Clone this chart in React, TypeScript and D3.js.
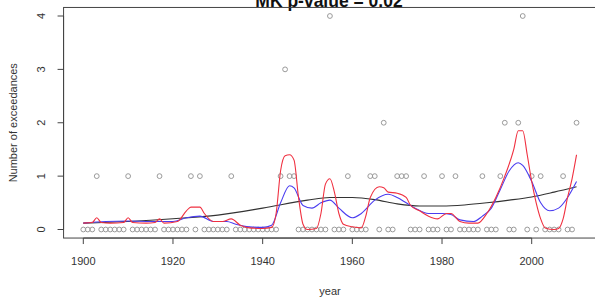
import React from "react";
import * as d3 from "d3";

// yearly exceedance counts, 1900..2010
const firstYear = 1900;
const counts = [
  0, 0, 0, 1, 0, 0, 0, 0, 0, 0, // 1900s
  1, 0, 0, 0, 0, 0, 0, 1, 0, 0, // 1910s
  0, 0, 0, 0, 1, 0, 1, 0, 0, 0, // 1920s
  0, 0, 0, 1, 0, 0, 0, 0, 0, 0, // 1930s
  0, 0, 0, 0, 1, 3, 1, 1, 0, 0, // 1940s
  0, 0, 0, 0, 0, 4, 0, 0, 0, 1, // 1950s
  0, 0, 0, 0, 1, 1, 0, 2, 0, 0, // 1960s
  1, 1, 1, 0, 0, 0, 1, 0, 0, 0, // 1970s
  1, 0, 0, 1, 0, 0, 0, 0, 0, 1, // 1980s
  0, 0, 0, 1, 2, 0, 0, 2, 4, 0, // 1990s
  1, 0, 1, 0, 0, 0, 0, 1, 0, 0, // 2000s
  2,
];

// narrow smoother (red) [year, value]
const redSmooth: [number, number][] = [
  [1900, 0.12], [1902, 0.13], [1903, 0.22], [1904, 0.13], [1906, 0.12],
  [1909, 0.13], [1910, 0.22], [1911, 0.13], [1914, 0.12], [1916, 0.13],
  [1917, 0.2], [1918, 0.12], [1921, 0.15], [1923, 0.35], [1924, 0.42],
  [1926, 0.42], [1927, 0.3], [1929, 0.15], [1931, 0.15], [1933, 0.2],
  [1935, 0.08], [1937, 0.03], [1940, 0.02], [1942, 0.04], [1943, 0.3],
  [1944, 1.1], [1945, 1.38], [1946, 1.4], [1947, 1.3], [1948, 0.6],
  [1949, 0.1], [1950, 0.0], [1952, 0.02], [1953, 0.3], [1954, 0.85],
  [1955, 0.95], [1956, 0.7], [1957, 0.3], [1958, 0.1], [1960, 0.05],
  [1962, 0.03], [1963, 0.25], [1964, 0.6], [1966, 0.8], [1967, 0.78],
  [1968, 0.7], [1970, 0.68], [1972, 0.6], [1973, 0.45], [1975, 0.35],
  [1977, 0.25], [1979, 0.2], [1981, 0.3], [1982, 0.3], [1984, 0.15],
  [1986, 0.12], [1988, 0.12], [1990, 0.3], [1992, 0.6], [1994, 1.0],
  [1996, 1.5], [1997, 1.85], [1998, 1.85], [1999, 1.4], [2000, 0.9],
  [2001, 0.5], [2002, 0.2], [2003, 0.03], [2005, 0.0], [2006, 0.02],
  [2007, 0.2], [2008, 0.6], [2009, 0.95], [2010, 1.4],
];

// medium smoother (blue)
const blueSmooth: [number, number][] = [
  [1900, 0.12], [1905, 0.15], [1910, 0.16], [1915, 0.15], [1920, 0.15],
  [1923, 0.22], [1926, 0.25], [1929, 0.15], [1932, 0.15], [1934, 0.1],
  [1937, 0.05], [1940, 0.04], [1942, 0.08], [1944, 0.5], [1946, 0.82],
  [1947, 0.78], [1949, 0.45], [1951, 0.4], [1953, 0.5], [1955, 0.55],
  [1957, 0.4], [1960, 0.22], [1962, 0.3], [1965, 0.55], [1968, 0.66],
  [1970, 0.6], [1972, 0.5], [1974, 0.4], [1977, 0.3], [1980, 0.3],
  [1982, 0.28], [1984, 0.18], [1987, 0.15], [1989, 0.25], [1991, 0.4],
  [1993, 0.75], [1995, 1.1], [1997, 1.25], [1998, 1.2], [2000, 0.9],
  [2002, 0.5], [2004, 0.35], [2006, 0.4], [2008, 0.6], [2010, 0.9],
];

// broad trend (black)
const trend: [number, number][] = [
  [1900, 0.12], [1910, 0.15], [1920, 0.2], [1930, 0.27], [1940, 0.4],
  [1950, 0.55], [1955, 0.6], [1960, 0.6], [1965, 0.56], [1970, 0.48],
  [1975, 0.44], [1980, 0.44], [1985, 0.46], [1990, 0.5], [1995, 0.55],
  [2000, 0.61], [2005, 0.7], [2010, 0.8],
];

const xTicks = [1900, 1920, 1940, 1960, 1980, 2000];
const yTicks = [0, 1, 2, 3, 4];

const W = 595;
const H = 302;

export default function App() {
  const x = d3.scaleLinear().domain([1900, 2000]).range([83.3, 531.7]);
  const y = d3.scaleLinear().domain([0, 4]).range([229.5, 16]);

  // R-style 4% padding around data range
  const left = x(1895.6);
  const right = x(2014.4);
  const top = y(4.16);
  const bottom = y(-0.16);

  const line = d3
    .line<[number, number]>()
    .x((d) => x(d[0]))
    .y((d) => y(d[1]))
    .curve(d3.curveMonotoneX);

  const axisCol = "#444";
  const font = "'Liberation Sans', Arial, sans-serif";

  return (
    <svg
      width={W}
      height={H}
      style={{ position: "absolute", left: 0, top: 0, background: "#fff" }}
      fontFamily={font}
    >
      <rect x={0} y={0} width={W} height={H} fill="#fff" />

      {/* title, clipped by the top edge */}
      <text x={329} y={7} textAnchor="middle" fontSize={17.5} fontWeight="bold" fill="#111">
        MK p-value = 0.02
      </text>

      {/* box */}
      <rect
        x={left}
        y={top}
        width={right - left}
        height={bottom - top}
        fill="none"
        stroke={axisCol}
        strokeWidth={1}
      />

      {/* x axis */}
      <line x1={x(1900)} x2={x(2000)} y1={bottom} y2={bottom} stroke={axisCol} />
      {xTicks.map((t) => (
        <g key={t}>
          <line x1={x(t)} x2={x(t)} y1={bottom} y2={bottom + 6} stroke={axisCol} />
          <text x={x(t)} y={265} textAnchor="middle" fontSize={11} fill="#333">
            {t}
          </text>
        </g>
      ))}

      {/* y axis */}
      <line x1={left} x2={left} y1={y(0)} y2={y(4)} stroke={axisCol} />
      {yTicks.map((t) => (
        <g key={t}>
          <line x1={left} x2={left - 6} y1={y(t)} y2={y(t)} stroke={axisCol} />
          <text
            transform={`translate(${44.5},${y(t)}) rotate(-90)`}
            textAnchor="middle"
            fontSize={11}
            fill="#333"
          >
            {t}
          </text>
        </g>
      ))}

      <text x={330} y={295} textAnchor="middle" fontSize={11} fill="#333">
        year
      </text>
      <text
        transform={`translate(${16.5},${(top + bottom) / 2}) rotate(-90)`}
        textAnchor="middle"
        fontSize={11}
        fill="#333"
      >
        Number of exceedances
      </text>

      {/* observations */}
      {counts.map((c, i) => (
        <circle
          key={i}
          cx={x(firstYear + i)}
          cy={y(c)}
          r={2.4}
          fill="none"
          stroke="#9a9a9a"
          strokeWidth={1}
        />
      ))}

      {/* smoothers */}
      <path d={line(trend) ?? ""} fill="none" stroke="#333" strokeWidth={1.1} />
      <path d={line(blueSmooth) ?? ""} fill="none" stroke="#4b3df0" strokeWidth={1.1} />
      <path d={line(redSmooth) ?? ""} fill="none" stroke="#f03040" strokeWidth={1.1} />
    </svg>
  );
}
